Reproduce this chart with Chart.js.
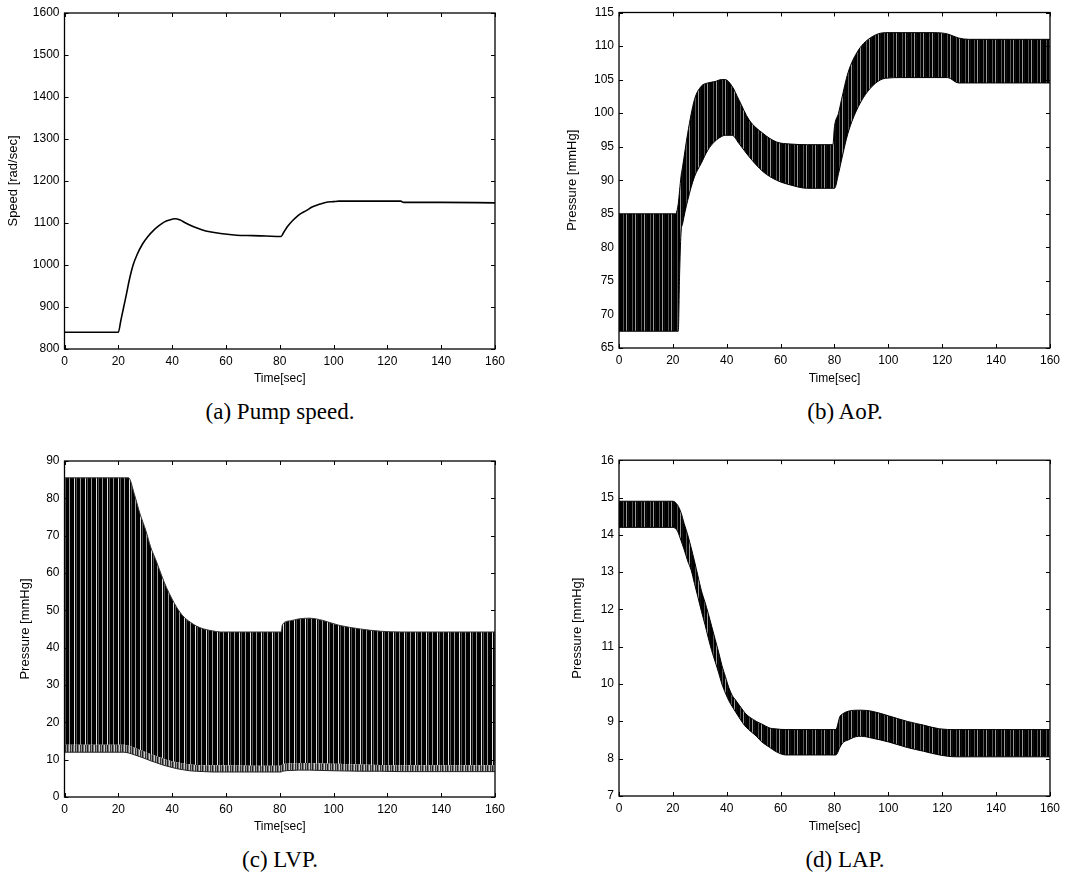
<!DOCTYPE html>
<html>
<head>
<meta charset="utf-8">
<script src="https://cdn.jsdelivr.net/npm/chart.js@4.4.1/dist/chart.umd.min.js"></script>
<style>
  body { margin: 0; background: #fff; width: 1065px; height: 877px; position: relative; overflow: hidden; }
  canvas { position: absolute; }
  .cap { position: absolute; width: 300px; text-align: center; font-family: "Liberation Serif", "Times New Roman", serif; font-size: 23px; line-height: 26px; color: #000; }
</style>
</head>
<body>
<canvas id="chartA" width="530" height="392" style="left:0;top:0"></canvas>
<canvas id="chartB" width="535" height="392" style="left:530px;top:0"></canvas>
<canvas id="chartC" width="530" height="392" style="left:0;top:448px"></canvas>
<canvas id="chartD" width="535" height="392" style="left:530px;top:448px"></canvas>
<div class="cap" style="left:130px;top:399px">(a) Pump speed.</div>
<div class="cap" style="left:695px;top:399px">(b) AoP.</div>
<div class="cap" style="left:130px;top:847px">(c) LVP.</div>
<div class="cap" style="left:695px;top:847px">(d) LAP.</div>
<script>
// (a) pump speed [rad/sec]
const speedTime  = [0, 20, 21, 22, 23, 24, 25.5, 27, 29, 31, 33, 35, 37, 39, 41, 43, 45, 48, 51, 54, 58, 64, 70, 75, 80.5, 81.5, 82.8, 85, 87, 90, 92, 95, 97, 100, 102, 110, 120, 125, 126, 140, 160];
const speedValue = [840, 840, 870, 900, 930, 962, 1000, 1025, 1050, 1068, 1082, 1093, 1102, 1107, 1110, 1107, 1100, 1091, 1084, 1079, 1075, 1071, 1070, 1069, 1068, 1078, 1091, 1107, 1119, 1130, 1138, 1145, 1149, 1151, 1152, 1152, 1152, 1152, 1149, 1149, 1148];

// (b) AoP envelope [mmHg]
const aopTime  = [0, 21, 22, 22.5, 23, 23.6, 25.5, 28, 30.5, 33, 35.6, 38, 39.4, 42, 44.5, 48.3, 53.4, 58.5, 63.6, 70, 79.4, 80, 81.5, 82.6, 85, 88.9, 94, 99, 105, 117, 122, 126, 130, 140, 150, 160];
const aopUpper = [85, 85, 86.5, 88.5, 90.5, 92, 97, 102, 104, 104.5, 104.7, 105, 105, 104, 102, 99, 97, 95.7, 95.4, 95.3, 95.3, 98, 100, 102, 106, 109.4, 111.4, 112, 112, 112, 111.8, 111.2, 111, 111, 111, 111];
const aopLower = [67.5, 67.5, 67.5, 76, 82, 83.5, 87, 90.5, 92.5, 94.5, 95.8, 96.5, 96.7, 96.7, 95.5, 93.5, 91.3, 90, 89.3, 88.8, 88.8, 88.8, 91, 93, 97, 101, 104, 105.2, 105.3, 105.3, 105.3, 104.5, 104.5, 104.5, 104.5, 104.5];

// (c) LVP envelope [mmHg]
const lvpTime  = [0, 22, 23.8, 26, 28, 30.3, 32, 34.1, 36, 37.9, 40, 41.7, 44, 46.8, 49, 51.8, 55, 58, 70, 80.5, 81, 84, 87, 91, 96, 102, 110, 117.5, 125, 140, 160];
const lvpUpper = [85.5, 85.5, 85.5, 81, 76, 71.2, 67, 63.2, 59.5, 56.1, 53, 50.8, 48.5, 46.8, 45.8, 45, 44.5, 44.2, 44.2, 44.2, 46.2, 47.2, 47.7, 47.9, 47.3, 46, 45, 44.4, 44.2, 44.2, 44.2];
const lvpInner = [14, 14, 13.7, 13.2, 12.6, 12, 11.5, 11, 10.5, 10, 9.6, 9.3, 9, 8.7, 8.6, 8.5, 8.5, 8.5, 8.4, 8.4, 8.8, 9, 9.1, 9.1, 9, 8.9, 8.7, 8.6, 8.5, 8.5, 8.5];
const lvpLower = [12, 12, 11.8, 11.3, 10.8, 10.2, 9.7, 9.2, 8.7, 8.3, 7.9, 7.6, 7.3, 7.0, 6.9, 6.8, 6.7, 6.7, 6.7, 6.7, 6.9, 7.1, 7.2, 7.2, 7.1, 7, 6.9, 6.9, 6.8, 6.8, 6.8];

// (d) LAP envelope [mmHg]
const lapTime  = [0, 20, 21.7, 23, 24.2, 25.5, 26.8, 28, 29.3, 30.6, 31.9, 33.1, 34.4, 35.7, 37, 38.2, 39.5, 40.8, 42, 43.3, 46, 47.1, 51, 53, 56, 58, 62, 80.5, 82, 83, 85, 89, 90, 94, 100, 107, 113, 119, 125, 140, 160];
const lapUpper = [14.9, 14.9, 14.8, 14.6, 14.3, 14.0, 13.65, 13.3, 12.9, 12.5, 12.2, 11.9, 11.55, 11.2, 10.85, 10.5, 10.2, 9.9, 9.7, 9.57, 9.3, 9.2, 9.0, 8.93, 8.82, 8.8, 8.78, 8.78, 9.13, 9.2, 9.27, 9.3, 9.3, 9.27, 9.15, 9.0, 8.9, 8.8, 8.78, 8.78, 8.78];
const lapLower = [14.2, 14.2, 14.1, 13.85, 13.6, 13.3, 13.05, 12.7, 12.33, 11.95, 11.6, 11.25, 10.9, 10.6, 10.3, 10.0, 9.76, 9.55, 9.4, 9.25, 8.95, 8.85, 8.6, 8.45, 8.3, 8.2, 8.1, 8.1, 8.3, 8.42, 8.5, 8.6, 8.6, 8.55, 8.45, 8.3, 8.2, 8.1, 8.05, 8.05, 8.05];

const timeTicks = { min: 0, max: 160, step: 20 };
const FONT = '"Liberation Sans", Arial, Helvetica, sans-serif';

function pts(xs, ys) { return xs.map((x, i) => ({ x: x, y: ys[i] })); }

// vertical stripe texture for the dense heartbeat oscillation
function stripes(cols) {
    const c = document.createElement('canvas');
    c.width = cols.length; c.height = 1;
    const g = c.getContext('2d');
    cols.forEach((col, i) => { g.fillStyle = col; g.fillRect(i, 0, 1, 1); });
    return g.createPattern(c, 'repeat');
}

// box frame + inward tick marks on all four sides (matlab style)
const frameTicks = {
    id: 'frameTicks',
    afterDatasetsDraw(chart) {
        const { ctx, chartArea: a, scales: { x, y } } = chart;
        const len = 4;
        ctx.save();
        ctx.strokeStyle = '#000';
        ctx.lineWidth = 1;
        ctx.beginPath();
        x.ticks.forEach(t => {
            const px = Math.round(x.getPixelForValue(t.value)) + 0.5;
            ctx.moveTo(px, a.bottom); ctx.lineTo(px, a.bottom - len);
            ctx.moveTo(px, a.top); ctx.lineTo(px, a.top + len);
        });
        y.ticks.forEach(t => {
            const py = Math.round(y.getPixelForValue(t.value)) + 0.5;
            ctx.moveTo(a.left, py); ctx.lineTo(a.left + len, py);
            ctx.moveTo(a.right, py); ctx.lineTo(a.right - len, py);
        });
        ctx.stroke();
        ctx.lineWidth = 1.3;
        ctx.strokeRect(a.left, a.top, a.right - a.left, a.bottom - a.top);
        ctx.restore();
    }
};

function panel(id, o) {
    return new Chart(document.getElementById(id), {
        type: 'line',
        data: { datasets: o.datasets },
        options: {
            animation: false,
            responsive: false,
            devicePixelRatio: 1,
            layout: { padding: { top: o.top, right: o.right, left: 0, bottom: 0 } },
            plugins: { legend: { display: false }, tooltip: { enabled: false } },
            elements: { point: { radius: 0 }, line: { borderWidth: 1, cubicInterpolationMode: 'monotone' } },
            scales: {
                x: {
                    type: 'linear', min: timeTicks.min, max: timeTicks.max,
                    afterFit: s => { s.height = o.xh; },
                    grid: { display: false, drawTicks: false },
                    border: { display: false },
                    ticks: { stepSize: timeTicks.step, padding: 5, color: '#000', maxRotation: 0, autoSkip: false, font: { family: FONT, size: 12 }, callback: v => String(v) },
                    title: { display: true, text: 'Time[sec]', color: '#000', font: { family: FONT, size: 12 }, padding: { top: 0, bottom: 6 } }
                },
                y: {
                    type: 'linear', min: o.yMin, max: o.yMax,
                    afterFit: s => { s.width = o.yw; },
                    grid: { display: false, drawTicks: false },
                    border: { display: false },
                    ticks: { stepSize: o.yStep, padding: 5, color: '#000', autoSkip: false, font: { family: FONT, size: 12 }, callback: v => String(v) },
                    title: { display: true, text: o.yTitle, color: '#000', font: { family: FONT, size: 13 }, padding: { top: o.titlePad, bottom: 0 } }
                }
            }
        },
        plugins: [frameTicks]
    });
}

const blackBand = stripes(['#000', '#000', '#000', '#555', '#000', '#000', '#999', '#000', '#111']);
const lvpBand = stripes(['#000', '#000', '#000', '#9a9a9a', '#000', '#000', '#000', '#000', '#e0e0e0', '#000', '#555']);
const greyBand = stripes(['#333', '#999', '#222', '#777', '#ccc']);

panel('chartA', {
    top: 13, right: 35, xh: 43, yw: 64.5, titlePad: 6,
    yMin: 800, yMax: 1600, yStep: 100, yTitle: 'Speed [rad/sec]',
    datasets: [
        { data: pts(speedTime, speedValue), borderColor: '#000', borderWidth: 1.6, fill: false }
    ]
});

panel('chartB', {
    top: 12.5, right: 14.5, xh: 44, yw: 89, titlePad: 35,
    yMin: 65, yMax: 115, yStep: 5, yTitle: 'Pressure [mmHg]',
    datasets: [
        { data: pts(aopTime, aopLower), borderColor: '#000', fill: false },
        { data: pts(aopTime, aopUpper), borderColor: '#000', backgroundColor: blackBand, fill: '-1' }
    ]
});

panel('chartC', {
    top: 13, right: 35, xh: 43, yw: 64.5, titlePad: 18,
    yMin: 0, yMax: 90, yStep: 10, yTitle: 'Pressure [mmHg]',
    datasets: [
        { data: pts(lvpTime, lvpLower), borderColor: '#222', fill: false },
        { data: pts(lvpTime, lvpInner), borderColor: 'rgba(0,0,0,0)', backgroundColor: greyBand, fill: '-1' },
        { data: pts(lvpTime, lvpUpper), borderColor: '#333', backgroundColor: lvpBand, fill: '-1' }
    ]
});

panel('chartD', {
    top: 12, right: 15, xh: 44, yw: 89, titlePad: 40,
    yMin: 7, yMax: 16, yStep: 1, yTitle: 'Pressure [mmHg]',
    datasets: [
        { data: pts(lapTime, lapLower), borderColor: '#000', fill: false },
        { data: pts(lapTime, lapUpper), borderColor: '#000', backgroundColor: blackBand, fill: '-1' }
    ]
});
</script>
</body>
</html>
